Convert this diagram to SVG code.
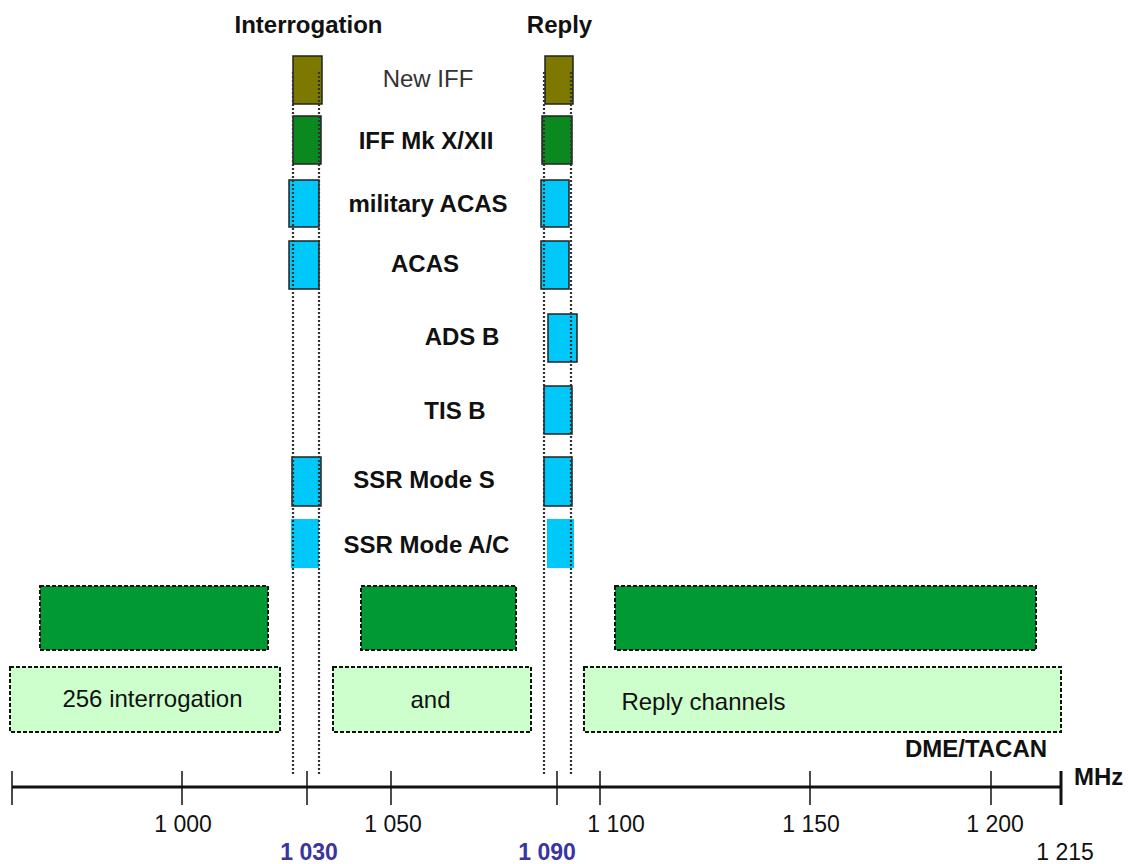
<svg xmlns="http://www.w3.org/2000/svg" width="1128" height="864" viewBox="0 0 1128 864">
<style>
text{font-family:"Liberation Sans",Arial,sans-serif;font-size:24px;fill:#111;text-anchor:middle}
.b{font-weight:bold}
.n{font-size:23px}
.blue{fill:#3a35a0;font-weight:bold;font-size:23px}
.olive{fill:#7d7800;stroke:#222;stroke-width:1.5}
.dg{fill:#0a8a1e;stroke:#222;stroke-width:1.5}
.cy{fill:#00c8f8;stroke:#222;stroke-width:1.5}
.cyn{fill:#00c8f8}
.band{fill:#009933;stroke:#111;stroke-width:2;stroke-dasharray:4 2}
.lband{fill:#ccffcc;stroke:#111;stroke-width:2;stroke-dasharray:4 2}
.dot{stroke:#333;stroke-width:2.2;stroke-dasharray:2 2;fill:none}
.tick{stroke:#111;stroke-width:1.5}
</style>
<rect width="1128" height="864" fill="#fff"/>
<g id="headers">
<text class="b" x="308.5" y="33">Interrogation</text>
<text class="b" x="559.5" y="33">Reply</text>
</g>
<g id="new-iff">
<rect class="olive" x="293" y="56" width="29" height="48"/>
<rect class="olive" x="545" y="56" width="28" height="48"/>
<text x="428" y="87" style="fill:#333">New IFF</text>
</g>
<g id="iff-mk">
<rect class="dg" x="293" y="116" width="28" height="48"/>
<rect class="dg" x="542" y="116" width="30" height="48"/>
<text class="b" x="426" y="149">IFF Mk X/XII</text>
</g>
<g id="military-acas">
<rect class="cy" x="289" y="180" width="30" height="47"/>
<rect class="cy" x="541" y="180" width="28" height="47"/>
<text class="b" x="428" y="212">military ACAS</text>
</g>
<g id="acas">
<rect class="cy" x="289" y="241" width="30" height="48"/>
<rect class="cy" x="541" y="241" width="28" height="48"/>
<text class="b" x="425" y="272">ACAS</text>
</g>
<g id="ads-b">
<rect class="cy" x="548" y="314" width="29" height="48"/>
<text class="b" x="462" y="345">ADS B</text>
</g>
<g id="tis-b">
<rect class="cy" x="544" y="386" width="28" height="48"/>
<text class="b" x="455" y="419">TIS B</text>
</g>
<g id="ssr-mode-s">
<rect class="cy" x="292" y="457" width="29" height="49"/>
<rect class="cy" x="544" y="457" width="28" height="49"/>
<text class="b" x="424" y="488">SSR Mode S</text>
</g>
<g id="ssr-mode-ac">
<rect class="cyn" x="291" y="519" width="28" height="49"/>
<rect class="cyn" x="547" y="519" width="27" height="49"/>
<text class="b" x="426.5" y="553">SSR Mode A/C</text>
</g>
<g id="dme-bands">
<rect class="band" x="40" y="586" width="228" height="64"/>
<rect class="band" x="361" y="586" width="155" height="64"/>
<rect class="band" x="615" y="586" width="421" height="64"/>
</g>
<g id="dme-channels">
<rect class="lband" x="10" y="667" width="270" height="65"/>
<rect class="lband" x="333" y="667" width="198" height="65"/>
<rect class="lband" x="584" y="667" width="477" height="65"/>
<text x="152.5" y="707">256 interrogation</text>
<text x="430.5" y="708">and</text>
<text x="703.5" y="710">Reply channels</text>
<text class="b" x="976" y="757">DME/TACAN</text>
</g>
<g id="guides">
<line class="dot" x1="293" y1="72" x2="293" y2="775"/>
<line class="dot" x1="319" y1="72" x2="319" y2="775"/>
<line class="dot" x1="544" y1="72" x2="544" y2="775"/>
<line class="dot" x1="571" y1="72" x2="571" y2="775"/>
</g>
<g id="axis">
<line x1="12" y1="787" x2="1061" y2="787" stroke="#111" stroke-width="3"/>
<line class="tick" x1="12" y1="771" x2="12" y2="805"/>
<line class="tick" x1="182" y1="771" x2="182" y2="805"/>
<line class="tick" x1="307" y1="771" x2="307" y2="805"/>
<line class="tick" x1="391" y1="771" x2="391" y2="805"/>
<line class="tick" x1="557" y1="771" x2="557" y2="805"/>
<line class="tick" x1="600" y1="771" x2="600" y2="805"/>
<line class="tick" x1="810" y1="771" x2="810" y2="805"/>
<line class="tick" x1="991" y1="771" x2="991" y2="805"/>
<line x1="1061" y1="771" x2="1061" y2="805" stroke="#111" stroke-width="3"/>
<text class="n" x="183" y="832">1 000</text>
<text class="n" x="393" y="832">1 050</text>
<text class="n" x="616" y="832">1 100</text>
<text class="n" x="811" y="832">1 150</text>
<text class="n" x="995" y="832">1 200</text>
<text class="blue" x="309" y="860">1 030</text>
<text class="blue" x="547" y="860">1 090</text>
<text class="n" x="1065" y="860">1 215</text>
<text class="b" x="1074" y="785" style="text-anchor:start">MHz</text>
</g>
</svg>
